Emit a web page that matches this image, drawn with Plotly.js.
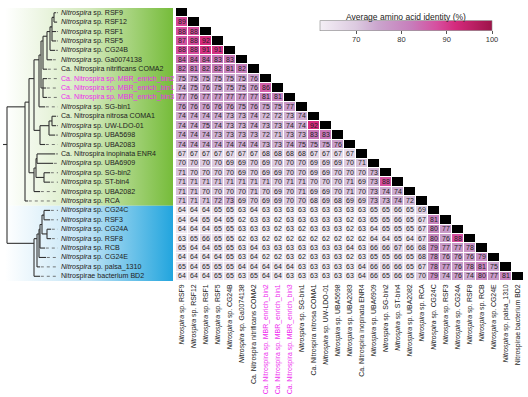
<!DOCTYPE html>
<html><head><meta charset="utf-8">
<script src="https://cdn.plot.ly/plotly-3.0.1.min.js"></script>
<style>html,body{margin:0;padding:0;background:#fff}#chart{width:528px;height:397px}</style>
</head><body><div id="chart"></div>
<script>
// ---- data ----
const MAG = '#ee2bee';
const genomeLabels = [
  '<i>Nitrospira</i> sp. RSF9',
  '<i>Nitrospira</i> sp. RSF12',
  '<i>Nitrospira</i> sp. RSF1',
  '<i>Nitrospira</i> sp. RSF5',
  '<i>Nitrospira</i> sp. CG24B',
  '<i>Nitrospira</i> sp. Ga0074138',
  'Ca. Nitrospira nitrificans COMA2',
  '<span style="color:' + MAG + '">Ca. Nitrospira sp. MBR_enrich_bin2</span>',
  '<span style="color:' + MAG + '">Ca. Nitrospira sp. MBR_enrich_bin1</span>',
  '<span style="color:' + MAG + '">Ca. Nitrospira sp. MBR_enrich_bin3</span>',
  '<i>Nitrospira</i> sp. SG-bin1',
  'Ca. Nitrospira nitrosa COMA1',
  '<i>Nitrospira</i> sp. UW-LDO-01',
  '<i>Nitrospira</i> sp. UBA5698',
  '<i>Nitrospira</i> sp. UBA2083',
  'Ca. Nitrospira inopinata ENR4',
  '<i>Nitrospira</i> sp. UBA6909',
  '<i>Nitrospira</i> sp. SG-bin2',
  '<i>Nitrospira</i> sp. ST-bin4',
  '<i>Nitrospira</i> sp. UBA2082',
  '<i>Nitrospira</i> sp. RCA',
  '<i>Nitrospira</i> sp. CG24C',
  '<i>Nitrospira</i> sp. RSF3',
  '<i>Nitrospira</i> sp. CG24A',
  '<i>Nitrospira</i> sp. RSF8',
  '<i>Nitrospira</i> sp. RCB',
  '<i>Nitrospira</i> sp. CG24E',
  '<i>Nitrospira</i> sp. palsa_1310',
  'Nitrospirae bacterium BD2'
];

// lower-triangle average amino acid identity (%), row i vs columns 0..i-1
const aaiRows = [
  [],
  [89],
  [88,88],
  [87,88,92],
  [88,88,91,91],
  [84,84,84,83,83],
  [82,81,82,82,81,82],
  [75,75,75,75,75,75,76],
  [74,75,76,75,75,75,76,86],
  [77,76,77,77,77,77,77,81,81],
  [76,76,76,76,76,75,76,75,75,77],
  [74,74,74,74,73,73,74,72,72,73,74],
  [74,74,75,74,73,73,74,73,73,74,74,92],
  [74,74,74,73,73,73,73,72,71,73,73,83,83],
  [74,74,74,74,74,74,74,73,73,74,75,75,75,76],
  [67,67,67,67,67,67,67,68,68,68,68,67,67,67,67],
  [70,70,70,70,69,69,70,69,70,70,70,69,69,69,70,71],
  [71,70,70,70,70,69,70,69,69,70,70,69,69,70,70,70,73],
  [71,71,71,71,71,71,71,71,70,71,71,70,70,70,71,69,73,88],
  [71,71,70,70,70,70,71,70,69,70,71,69,69,70,71,70,73,74,74],
  [71,71,71,72,73,69,70,69,69,70,70,68,69,68,69,69,73,73,74,72],
  [64,64,64,65,65,63,64,63,63,63,63,63,63,63,63,63,65,65,66,65,69],
  [64,64,65,64,65,62,63,63,62,63,63,63,63,63,62,63,65,65,66,65,67,81],
  [64,64,64,65,65,63,63,63,62,63,62,63,63,63,62,63,64,65,65,65,67,80,77],
  [63,65,66,65,65,62,63,62,62,62,62,62,62,62,62,62,64,64,65,64,67,80,76,88],
  [65,64,64,65,65,63,64,63,63,63,63,63,63,63,64,63,66,66,67,66,68,79,77,77,78],
  [64,64,64,64,65,63,64,62,62,63,62,63,63,63,62,63,65,65,66,65,68,78,76,76,76,79],
  [65,64,65,65,65,64,64,64,64,64,63,63,63,63,63,64,66,66,66,65,67,78,77,76,78,81,75],
  [64,64,64,65,65,63,65,64,64,63,63,63,63,63,63,64,66,65,66,65,70,79,74,76,74,80,77,81]
];

// dendrogram: tip positions of leaves and nested nodes [depth, children...]; leaf = row index
const leafTipX = [56,57,56,56,55,52,47,47,46,47,45,56,56,55,45,55,53,50,50,40,28,50,50,51,51,45,46,40,40];
const tree = [7,
  [25,
    [29,
      [34,
        [39, [41, [43, [47, [50, [52, [54, 0, 1], 2, 3], 4], 5], 6], [43, 7, 8, 9]], 10],
        [40, [49, [52, 11, 12], 13], 14]
      ],
      [34, [36, [37, 15, 16], [44, 17, 18]], 19]
    ],
    20
  ],
  [34, [37, [39, [40, [42, [44, 21, 22], [47, 23, 24]], 25], 26], 27], 28]
];

// ---- build ----
const N = genomeLabels.length;
const idx = Array.from({length: N}, (_, i) => i);
const zVals = [], tVals = [], zDiag = [];
for (let r = 0; r < N; r++) {
  const zr = [], tr = [], dr = [];
  for (let c = 0; c < N; c++) {
    if (c < r) { zr.push(aaiRows[r][c]); tr.push(String(aaiRows[r][c])); }
    else { zr.push(null); tr.push(''); }
    dr.push(c === r ? 1 : null);
  }
  zVals.push(zr); tVals.push(tr); zDiag.push(dr);
}

const LABEL_X = 58.5;
const treeX = [], treeY = [], leadX = [], leadY = [];
function seg(x0, y0, x1, y1, ax, ay) { ax.push(x0, x1, null); ay.push(y0, y1, null); }
function leavesOf(node) {
  return typeof node === 'number' ? [node] : node.slice(1).flatMap(leavesOf);
}
function place(node, parentX) {
  if (typeof node === 'number') {
    const tip = leafTipX[node];
    seg(parentX, node, tip, node, treeX, treeY);
    if (LABEL_X - tip > 1) seg(tip + 0.8, node, LABEL_X - 0.5, node, leadX, leadY);
    return node;
  }
  const x = node[0];
  const ys = node.slice(1).map(ch => place(ch, x));
  const y0 = Math.min(...ys), y1 = Math.max(...ys);
  seg(x, y0, x, y1, treeX, treeY);
  const lv = leavesOf(node);
  const ym = lv.reduce((a, b) => a + b, 0) / lv.length;
  seg(parentX, ym, x, ym, treeX, treeY);
  return ym;
}
place(tree, 3);

const W = 528, H = 397;
const hx0 = 176, hx1 = 524, hy0 = 8, hy1 = 281;
const FONT = 'Arial, Liberation Sans, sans-serif';

const data = [
  { type: 'scatter', xaxis: 'x2', yaxis: 'y', mode: 'lines', hoverinfo: 'skip',
    x: [5, 173, 173, 5, 5], y: [-0.5, -0.5, 20.5, 20.5, -0.5], fill: 'toself',
    line: {width: 0}, fillcolor: '#b9dc96',
    fillgradient: {type: 'horizontal', colorscale: [[0, '#ffffff'], [0.5, '#d3e9bc'], [1, '#76bc3a']]} },
  { type: 'scatter', xaxis: 'x2', yaxis: 'y', mode: 'lines', hoverinfo: 'skip',
    x: [5, 173, 173, 5, 5], y: [20.5, 20.5, 28.5, 28.5, 20.5], fill: 'toself',
    line: {width: 0}, fillcolor: '#8ccdef',
    fillgradient: {type: 'horizontal', colorscale: [[0, '#ffffff'], [0.5, '#bde2f5'], [1, '#22a5de']]} },
  { type: 'scatter', xaxis: 'x2', yaxis: 'y', mode: 'lines', hoverinfo: 'skip',
    x: leadX, y: leadY, line: {color: '#555', width: 0.8, dash: 'dot'} },
  { type: 'scatter', xaxis: 'x2', yaxis: 'y', mode: 'lines', hoverinfo: 'skip',
    x: treeX, y: treeY, line: {color: '#333', width: 1.1} },
  { type: 'heatmap', x: idx, y: idx, z: zVals, text: tVals, texttemplate: '%{text}',
    textfont: {size: 7, color: '#222', family: FONT},
    zmin: 62, zmax: 100, xgap: 1, ygap: 1, hoverinfo: 'skip',
    colorscale: [[0, '#f4eff6'], [0.21, '#dccae0'], [0.34, '#caa4cd'], [0.53, '#c77dbb'],
                 [0.68, '#d64f9f'], [0.79, '#d42a7c'], [1, '#9e1449']],
    colorbar: {
      orientation: 'h', x: 406 / W, xanchor: 'center', y: 1 - 28 / H, yanchor: 'middle',
      len: 172 / W, lenmode: 'fraction', thickness: 10, thicknessmode: 'pixels',
      xpad: 0, ypad: 0, tickvals: [70, 80, 90, 100], ticks: 'outside', ticklen: 3,
      tickcolor: '#555', tickfont: {size: 7.5, color: '#333'},
      outlinewidth: 0.6, outlinecolor: '#888',
      title: {text: 'Average amino acid identity (%)', side: 'top', font: {size: 8.5, color: '#222'}}
    } },
  { type: 'heatmap', x: idx, y: idx, z: zDiag, showscale: false, xgap: 1, ygap: 1,
    hoverinfo: 'skip', colorscale: [[0, '#000'], [1, '#000']] }
];

const annotations = genomeLabels.map((t, i) => ({
  xref: 'x2', yref: 'y', x: LABEL_X, y: i, text: t, showarrow: false,
  xanchor: 'left', yanchor: 'middle', font: {size: 7.1, color: '#222'}
}));

const layoutObj = {
  width: W, height: H, margin: {l: 0, r: 0, t: 0, b: 0},
  paper_bgcolor: '#fff', plot_bgcolor: 'rgba(0,0,0,0)', showlegend: false,
  font: {family: FONT, color: '#222'},
  xaxis: { domain: [hx0 / W, hx1 / W], range: [-0.5, N - 0.5], anchor: 'y',
    tickmode: 'array', tickvals: idx, ticktext: genomeLabels, tickangle: -90,
    tickfont: {size: 6.9, color: '#222'}, ticks: '', ticklabelstandoff: 1,
    showgrid: false, zeroline: false, showline: false },
  yaxis: { domain: [1 - hy1 / H, 1 - hy0 / H], range: [N - 0.5, -0.5], anchor: 'x',
    showticklabels: false, ticks: '', showgrid: false, zeroline: false, showline: false },
  xaxis2: { domain: [0, hx0 / W], range: [0, hx0], anchor: 'y', visible: false,
    showgrid: false, zeroline: false },
  annotations: annotations
};

Plotly.newPlot('chart', data, layoutObj, {staticPlot: true, displayModeBar: false});
</script></body></html>
